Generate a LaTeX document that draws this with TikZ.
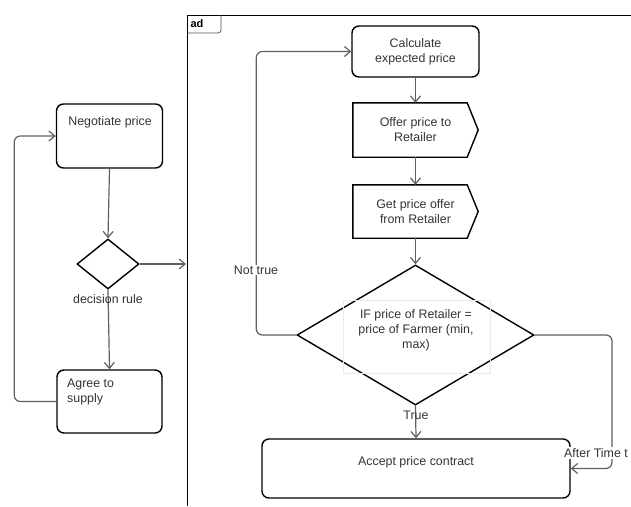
\documentclass[tikz,border=0pt]{standalone}
\usepackage{fontspec}
\setmainfont{Liberation Sans}
\usetikzlibrary{arrows.meta,shapes.geometric}
\definecolor{txt}{HTML}{333333}
\definecolor{conn}{HTML}{606060}
\begin{document}
\begin{tikzpicture}[x=1pt,y=-1pt,
  every node/.style={font=\fontsize{12.4}{15}\selectfont, text=txt},
  box/.style={draw=black, line width=1.4pt, rounded corners=7pt, inner sep=0pt},
  plain/.style={draw=none, inner sep=0pt},
  dia/.style={diamond, draw=black, line width=1.4pt, inner sep=0pt},
  arr/.style={draw=conn, line width=1.2pt, rounded corners=6pt, -{Straight Barb[length=6pt,width=10pt]}},
  lbl/.style={inner sep=1pt},
  frame/.style={draw=black, line width=0.8pt}
]
\useasboundingbox (0,0) rectangle (631,506);

% frame
\draw[frame] (631,15) -- (187,15) -- (187,506);
\draw[draw=black!70, line width=0.7pt, rounded corners=3pt] (187,33) -- (221,33) -- (221,15);
\node[lbl, font=\bfseries\fontsize{11}{13}\selectfont, text=black] (ad) at (197,24) {ad};

% left part
\node[box, minimum width=106, minimum height=64] (neg) at (109.5,136) {};
\node[plain] (negt) at (110,122) {Negotiate price};
\node[dia, minimum width=62, minimum height=50] (d1) at (108,264) {};
\node[box, minimum width=105, minimum height=63] (agree) at (109.5,401.5) {};
\node[plain, anchor=north west, align=left] (agreet) at (67,379) {Agree to\\supply};
\coordinate (fe) at (186,264);

\draw[arr] (neg.south) -- (d1.north);
\draw[arr] (d1.south) -- (agree.north);
\node[lbl] (dr) at (108,299) {decision rule};
\draw[arr] (agree.west) -- ++(-42,0) |- (neg.west);
\draw[arr] (d1.east) -- (fe);

% right part
\node[box, minimum width=127, minimum height=51, align=center] (calc) at (415.5,51.5) {Calculate\\expected price};
\node[plain, minimum width=125, minimum height=54, align=center] (offer) at (415.5,130) {Offer price to\\Retailer};
\draw[black, line width=1.4pt, line join=miter] (offer.south west) -- (offer.north west) -- ([xshift=-11pt]offer.north east) -- (offer.east) -- ([xshift=-11pt]offer.south east) -- cycle;
\node[plain, minimum width=125, minimum height=53, align=center] (get) at (415.5,211.5) {Get price offer\\from Retailer};
\draw[black, line width=1.4pt, line join=miter] (get.south west) -- (get.north west) -- ([xshift=-11pt]get.north east) -- (get.east) -- ([xshift=-11pt]get.south east) -- cycle;
\node[dia, minimum width=237, minimum height=140] (d2) at (415.5,335) {};
\node[draw=black!8, line width=0.6pt, minimum width=147, minimum height=73, inner sep=0pt] (cond) at (416.5,336.5) {};
\node[plain, align=center] (condt) at (416,330) {IF price of Retailer =\\price of Farmer (min,\\max)};
\node[box, minimum width=308, minimum height=59] (accept) at (416,468.5) {};
\node[plain] (acceptt) at (416,462) {Accept price contract};

\draw[arr] (calc.south) -- (offer.north);
\draw[arr] (offer.south) -- (get.north);
\draw[arr] (get.south) -- (d2.north);
\draw[arr] (d2.south) -- (accept.north);
\node[lbl] (tr) at (416,415) {True};
\draw[arr] (d2.west) -- ++(-40,0) |- (calc.west);
\node[lbl, fill=white] (nt) at (256,270) {Not true};
\draw[arr] (d2.east) -- (612,335) |- (accept.east);
\node[lbl, fill=white] (at) at (596,453) {After Time t};
\end{tikzpicture}
\end{document}
